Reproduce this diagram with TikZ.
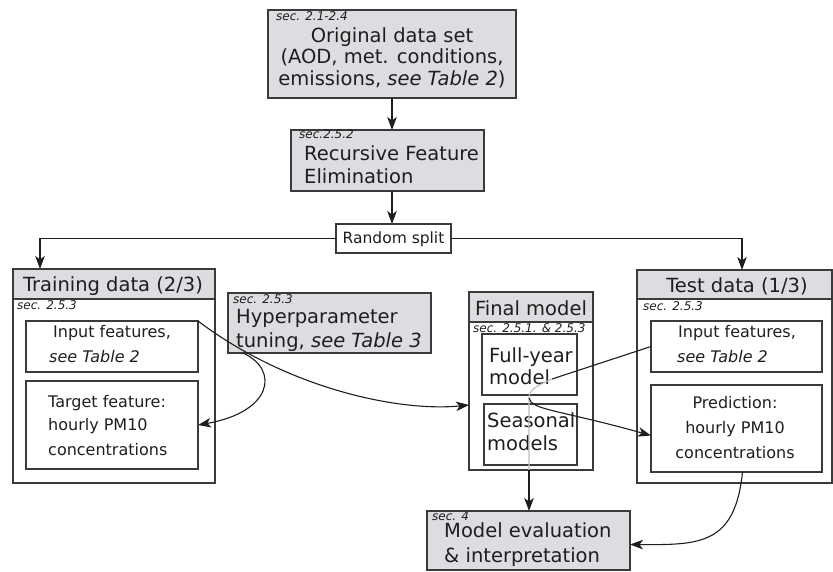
\documentclass[tikz,border=0pt]{standalone}
\usepackage{fontspec}
\setmainfont{DejaVu Sans}
\usetikzlibrary{arrows.meta,calc}
\definecolor{bordc}{HTML}{3A3A3A}
\definecolor{hdrgray}{HTML}{DCDDE0}
\definecolor{txtc}{HTML}{1E1E1E}
\definecolor{linec}{HTML}{1E1E1E}
\definecolor{faintc}{HTML}{BDBDBD}
\begin{document}
\begin{tikzpicture}[x=1pt,y=-1pt,
  box/.style={draw=bordc, line width=1.4pt, inner sep=0pt, outer sep=0pt, anchor=north west},
  inbox/.style={draw=bordc, line width=1.2pt, inner sep=0pt, outer sep=0pt, anchor=north west},
  hdr/.style={box, fill=hdrgray},
  big/.style={font=\fontsize{19.5}{21}\selectfont, text=txtc, inner sep=0pt},
  mid/.style={font=\fontsize{16}{18}\selectfont, text=txtc, inner sep=0pt},
  sml/.style={font=\fontsize{15.5}{18}\selectfont, text=txtc, inner sep=0pt},
  sec/.style={font=\fontsize{12}{14}\selectfont\itshape, text=txtc, inner sep=0pt, anchor=base west},
  conn/.style={draw=linec, line width=1.1pt},
  faint/.style={draw=faintc, line width=1.1pt},
  arr/.style={conn, -{Stealth[length=13pt,width=9.5pt,inset=3.5pt]}},
]
\useasboundingbox (0,0) rectangle (833,571);

% ---- boxes ----
\node[hdr, minimum width=248pt, minimum height=88pt] (orig) at (268,10) {};
\node[hdr, minimum width=193pt, minimum height=61pt] (rfe) at (291,130) {};
\node[box, minimum width=115pt, minimum height=29pt] (split) at (336,224) {};

\node[box, minimum width=202pt, minimum height=214pt] (train) at (13,269) {};
\node[hdr, minimum width=202pt, minimum height=30pt] (trainhdr) at (13,269) {};
\node[inbox, minimum width=172pt, minimum height=51pt] (tin) at (26,321) {};
\node[inbox, minimum width=172pt, minimum height=88pt] (tgt) at (26,381) {};

\node[hdr, minimum width=203pt, minimum height=60pt] (hyp) at (228,293) {};

\node[box, minimum width=124pt, minimum height=178pt] (final) at (469,292) {};
\node[hdr, minimum width=124pt, minimum height=30pt] (finalhdr) at (469,292) {};
\node[inbox, minimum width=95pt, minimum height=61pt] (fy) at (482,334) {};
\node[inbox, minimum width=93pt, minimum height=61pt] (seas) at (484,404) {};

\node[box, minimum width=195pt, minimum height=213pt] (test) at (637,270) {};
\node[hdr, minimum width=195pt, minimum height=29pt] (testhdr) at (637,270) {};
\node[inbox, minimum width=171pt, minimum height=51pt] (tin2) at (651,321) {};
\node[inbox, minimum width=171pt, minimum height=87pt] (pred) at (651,385) {};

\node[hdr, minimum width=203pt, minimum height=59pt] (meval) at (427,511) {};

% ---- texts ----
\node[sec] (s1) at (276,20.5) {sec. 2.1-2.4};
\node[big, anchor=base] (o1) at (392,42) {Original data set};
\node[big, anchor=base] (o2) at (392,63.5) {(AOD, met. conditions,};
\node[big, anchor=base] (o3) at (392,85) {emissions, \textit{see Table 2})};

\node[sec] (s2) at (299,138) {sec.2.5.2};
\node[big, anchor=base west] (r1) at (304,160) {Recursive Feature};
\node[big, anchor=base west] (r2) at (304,183) {Elimination};

\node[sml, anchor=base] (sp) at (393.5,243) {Random split};

\node[big, anchor=base] (th) at (113,291) {Training data (2/3)};
\node[sec] (s3) at (17,309) {sec. 2.5.3};
\node[mid, anchor=base west] (ti1) at (53,337) {Input features,};
\node[mid, anchor=base west] (ti2) at (49,362) {\textit{see Table 2}};
\node[mid, anchor=base west] (tg1) at (48,407) {Target feature:};
\node[mid, anchor=base west] (tg2) at (48,430) {hourly PM10};
\node[mid, anchor=base west] (tg3) at (48,455) {concentrations};

\node[sec] (s4) at (233,303) {sec. 2.5.3};
\node[big, anchor=base west] (h1) at (236,323) {Hyperparameter};
\node[big, anchor=base west] (h2) at (236,347) {tuning, \textit{see Table 3}};

\node[big, anchor=base] (fh) at (531,315) {Final model};
\node[sec] (s5) at (473,332) {sec. 2.5.1. \& 2.5.3};
\node[big, anchor=base west] (f1) at (489,362) {Full-year};
\node[big, anchor=base west] (f2) at (489,384) {model};
\node[big, anchor=base west] (se1) at (487,427) {Seasonal};
\node[big, anchor=base west] (se2) at (487,450) {models};

\node[big, anchor=base] (teh) at (737,292) {Test data (1/3)};
\node[sec] (s6) at (643,310) {sec. 2.5.3};
\node[mid, anchor=base west] (tt1) at (678,337) {Input features,};
\node[mid, anchor=base west] (tt2) at (677,362) {\textit{see Table 2}};
\node[mid, anchor=base] (p1) at (735,408) {Prediction:};
\node[mid, anchor=base] (p2) at (735,433) {hourly PM10};
\node[mid, anchor=base] (p3) at (735,458) {concentrations};

\node[sec] (s7) at (432,520) {sec. 4};
\node[big, anchor=base west] (m1) at (444,537) {Model evaluation};
\node[big, anchor=base west] (m2) at (444,562) {\& interpretation};

% ---- connectors ----
\coordinate (colx) at (392,0);
\draw[arr] (orig.south -| colx) -- (rfe.north -| colx);
\draw[arr] (rfe.south -| colx) -- (split.north -| colx);
\coordinate (trainin) at ($(train.north west)+(27,0)$);
\coordinate (testin) at ($(test.north west)+(105,0)$);
\draw[arr] (split.west) -| (trainin);
\draw[arr] (split.east) -| (testin);

% training input features -> final model
\coordinate (finin) at ($(final.west)+(0,24)$);
\draw[arr] (tin.north east) .. controls (288,389) and (400,412) .. (finin);
% hyperparameter -> target feature
\coordinate (hypout) at ($(hyp.south west)+(15,0)$);
\draw[arr] (hypout) .. controls (280,370) and (272,412) .. (tgt.east);

% test input -> model -> prediction / evaluation
\coordinate (bend1) at (552,379);
\coordinate (turn) at (529,398);
\coordinate (drop) at (529,470);
\draw[conn] (tin2.west) -- (bend1);
\draw[faint] (bend1) .. controls (536,386) and (529,390) .. (turn) -- (drop);
\draw[arr] (drop) -- (meval.north -| drop);
\coordinate (predin) at ($(pred.west)+(0,7)$);
\draw[arr] (turn) .. controls (531,410) and (560,410) .. (predin);

% prediction -> evaluation
\coordinate (predout) at ($(pred.south)+(6,0)$);
\coordinate (mevin) at ($(meval.east)+(0,4)$);
\draw[arr] (predout) .. controls (735,545) and (700,545) .. (mevin);
\end{tikzpicture}
\end{document}
